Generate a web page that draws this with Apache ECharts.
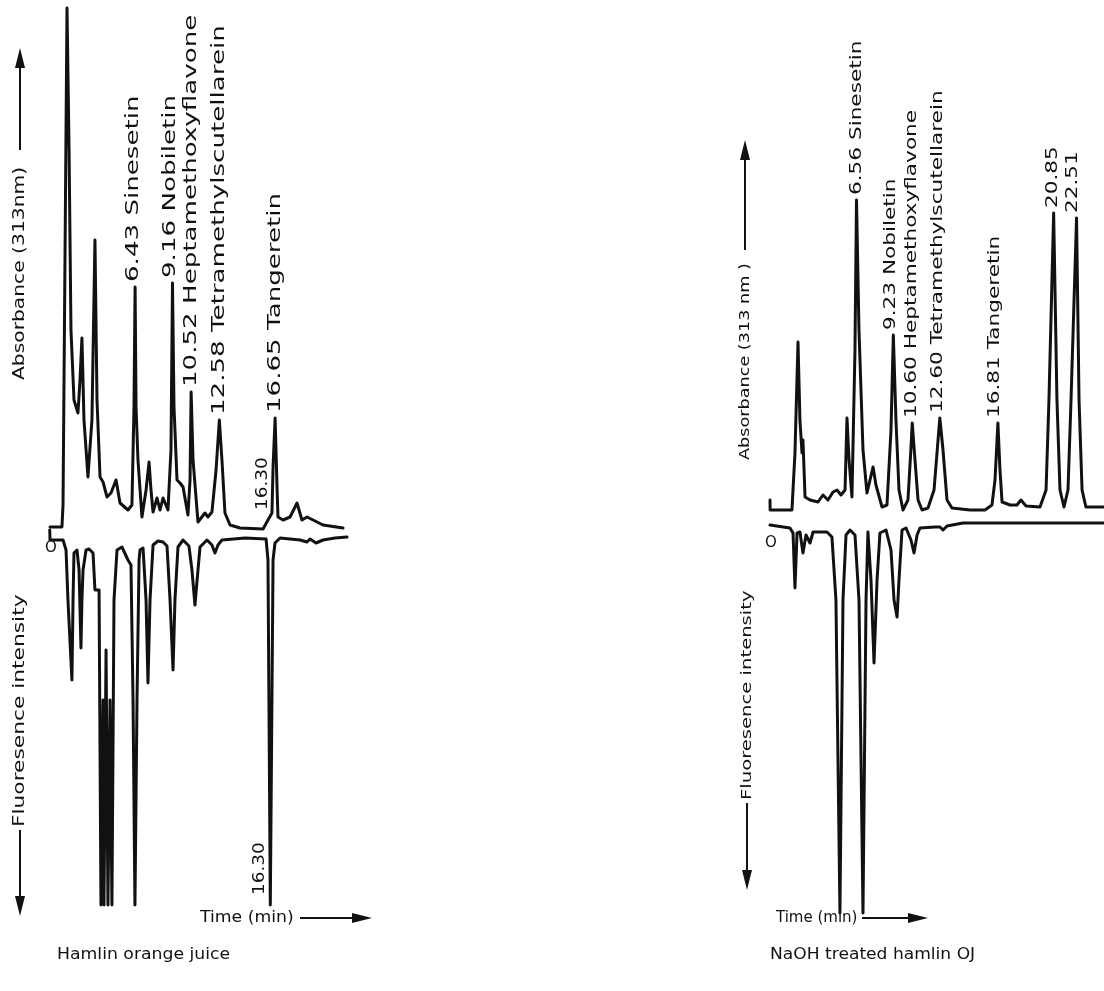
<!DOCTYPE html>
<html><head><meta charset="utf-8">
<script src="https://cdn.jsdelivr.net/npm/echarts@6/dist/echarts.min.js"></script>
<style>html,body{margin:0;padding:0;background:#fff}#c{width:1104px;height:991px}</style>
</head><body><div id="c"></div>
<script>
// ---- Left panel: Hamlin orange juice ----
const leftAbsTime  = [0.22,1.09,1.17,1.46,1.61,1.75,1.97,2.26,2.41,2.55,2.70,2.99,3.28,3.50,3.65,3.87,4.09,4.38,4.67,5.04,5.33,5.91,6.20,6.35,6.43,6.50,6.64,6.93,7.23,7.45,7.59,7.74,8.03,8.25,8.47,8.83,9.05,9.16,9.27,9.49,9.71,9.93,10.29,10.44,10.52,10.66,11.02,11.53,11.75,12.04,12.34,12.58,12.77,12.99,13.36,14.09,15.77,16.13,16.42,16.50,16.65,16.79,16.86,17.23,17.74,18.25,18.61,18.98,19.42,20.15,21.61];
const leftAbsValue = [0,0,22,519,377,197,127,114,147,189,107,50,107,287,127,50,45,30,34,47,24,17,22,120,240,120,67,10,37,65,37,15,29,17,29,17,77,244,120,47,44,40,12,47,135,67,5,14,10,15,57,107,67,14,2,-1,-2,7,14,60,109,40,10,7,10,24,7,10,7,2,-1];
const leftFluTime  = [0.20,0.22,1.17,1.39,1.53,1.82,1.90,1.97,2.19,2.34,2.48,2.55,2.63,2.85,3.07,3.36,3.50,3.80,3.94,4.09,4.16,4.31,4.45,4.60,4.74,4.89,5.11,5.47,5.91,6.13,6.28,6.42,6.57,6.72,6.79,7.01,7.23,7.37,7.52,7.74,8.10,8.47,8.76,8.98,9.20,9.34,9.56,9.93,10.36,10.58,10.80,11.02,11.17,11.68,12.04,12.26,12.48,12.77,14.45,15.99,16.13,16.30,16.50,16.64,17.01,18.47,18.98,19.20,19.64,20.15,21.02,21.90];
const leftFluValue = [-8,2,2,12,62,142,62,15,12,32,110,62,32,12,11,15,52,52,367,162,367,112,367,162,367,62,12,9,22,27,162,367,162,22,12,10,62,145,62,7,3,4,8,62,132,62,9,2,8,32,67,32,9,2,7,15,7,2,0,1,22,367,22,5,0,2,4,1,5,2,0,-1];
const leftPeakText = ["6.43 Sinesetin","9.16 Nobiletin","10.52 Heptamethoxyflavone","12.58 Tetramethylscutellarein","16.65 Tangeretin","16.30"];
const leftPeakTime = [6.43,9.16,10.52,12.58,16.65,16.30];
const leftFluPeakText = ["16.30"];
const leftFluPeakTime = [16.30];

// ---- Right panel: NaOH treated hamlin OJ ----
const rightAbsTime  = [0.29,0.30,1.88,2.10,2.32,2.46,2.61,2.68,2.83,3.19,3.77,4.13,4.49,4.86,5.15,5.44,5.73,5.87,6.02,6.23,6.45,6.56,6.74,7.03,7.32,7.54,7.76,7.97,8.41,8.77,9.06,9.23,9.42,9.64,9.93,10.29,10.50,10.60,10.80,11.02,11.31,11.74,12.18,12.47,12.60,12.83,13.12,13.48,14.79,15.87,16.38,16.60,16.81,16.96,17.11,17.69,18.19,18.48,18.85,19.86,20.30,20.51,20.85,21.09,21.31,21.60,21.89,22.11,22.51,22.69,22.91,23.19,24.50];
const rightAbsValue = [9,-1,-1,56,167,89,56,69,12,9,7,14,9,17,19,14,19,91,49,12,159,309,179,59,16,29,42,24,2,4,79,174,89,19,-1,9,59,86,49,9,-1,1,19,69,91,59,9,1,-1,-1,4,29,86,39,7,4,4,9,3,2,19,109,296,109,19,2,19,109,291,109,19,2,2];
const rightFluTime  = [0.29,1.74,1.96,2.10,2.25,2.46,2.68,2.90,3.19,3.41,4.42,4.78,5.07,5.36,5.58,5.80,6.09,6.45,6.74,7.03,7.25,7.39,7.61,7.83,8.05,8.26,8.70,9.06,9.28,9.50,9.64,9.86,10.15,10.51,10.73,10.95,11.16,12.25,12.61,12.83,13.12,14.28,24.50];
const rightFluValue = [0,3,8,63,8,7,28,10,18,7,7,12,75,388,75,10,5,10,75,388,75,7,55,138,55,8,5,25,75,92,55,5,3,15,28,10,3,2,2,5,1,-2,-2];
const rightPeakText = ["6.56 Sinesetin","9.23 Nobiletin","10.60 Heptamethoxyflavone","12.60 Tetramethylscutellarein","16.81 Tangeretin","20.85","22.51"];
const rightPeakTime = [6.56,9.23,10.60,12.60,16.81,20.85,22.51];

const ink = '#111';
const FONT = '"DejaVu Sans", "Noto Sans", sans-serif';
const zip = (a, b) => a.map((t, i) => [t, b[i]]);

const chart = echarts.init(document.getElementById('c'), null, {renderer: 'canvas'});
const hiddenX = (min, max, g) => ({type: 'value', gridIndex: g, min, max, show: false});
const hiddenY = (min, max, g, inv) => ({type: 'value', gridIndex: g, min, max, inverse: !!inv, show: false});
const line = (data, xi, yi) => ({
  type: 'line', xAxisIndex: xi, yAxisIndex: yi, data, showSymbol: false, symbol: 'none',
  smooth: false, silent: true, animation: false,
  lineStyle: {color: ink, width: 3, join: 'round', cap: 'round'}
});

chart.setOption({
  backgroundColor: '#fff',
  animation: false,
  grid: [
    {left: 47, top: 0, width: 301.4, height: 940},
    {left: 766, top: 0, width: 338, height: 940}
  ],
  xAxis: [hiddenX(0, 22, 0), hiddenX(0, 22, 0), hiddenX(0, 24.5, 1), hiddenX(0, 24.5, 1)],
  yAxis: [hiddenY(-413, 527, 0), hiddenY(-538, 402, 0, true), hiddenY(-431, 509, 1), hiddenY(-525, 415, 1, true)],
  series: [
    line(zip(leftAbsTime, leftAbsValue), 0, 0),
    line(zip(leftFluTime, leftFluValue), 1, 1),
    line(zip(rightAbsTime, rightAbsValue), 2, 2),
    line(zip(rightFluTime, rightFluValue), 3, 3)
  ]
});

function nearestValue(times, values, t) {
  let best = 0, bd = Infinity;
  times.forEach((tt, i) => { const d = Math.abs(tt - t); if (d < bd) { bd = d; best = i; } });
  return values[best];
}
function vText(text, x, y, size, sx) {
  return {type: 'text', x, y, rotation: Math.PI / 2, scaleX: sx || 1.12, silent: true,
    style: {text, font: size + 'px ' + FONT, fill: ink, align: 'left', verticalAlign: 'middle', textAlign: 'left', textVerticalAlign: 'middle'}};
}
function hText(text, x, y, size, sx) {
  return {type: 'text', x, y, scaleX: sx || 1.12, silent: true,
    style: {text, font: size + 'px ' + FONT, fill: ink, align: 'left', verticalAlign: 'middle', textAlign: 'left', textVerticalAlign: 'middle'}};
}
const els = [];
const leftDx = [-2, -2, 0, 0, 0, -7];
leftPeakText.forEach((s, i) => {
  const t = leftPeakTime[i];
  const v = nearestValue(leftAbsTime, leftAbsValue, t);
  const p = chart.convertToPixel({xAxisIndex: 0, yAxisIndex: 0}, [t, v]);
  const small = i === 5;
  els.push(vText(s, p[0] + leftDx[i], p[1] - (small ? 3 : 5), small ? 16 : 18, small ? 1.15 : 1.45));
});
leftFluPeakText.forEach((s, i) => {
  const p = chart.convertToPixel({xAxisIndex: 1, yAxisIndex: 1}, [leftFluPeakTime[i], 357]);
  els.push(vText(s, p[0] - 10, p[1], 16, 1.15));
});
const rightDx = [0, -2, 0, -2, -3, -1, -4];
rightPeakText.forEach((s, i) => {
  const t = rightPeakTime[i];
  const v = nearestValue(rightAbsTime, rightAbsValue, t);
  const p = chart.convertToPixel({xAxisIndex: 2, yAxisIndex: 2}, [t, v]);
  els.push(vText(s, p[0] + rightDx[i], p[1] - 5, 16, 1.35));
});

// axis captions and arrows (decoration)
function arrowUp(x, yTop, yBottom) {
  return [
    {type: 'line', silent: true, shape: {x1: x, y1: yBottom, x2: x, y2: yTop + 16}, style: {stroke: ink, lineWidth: 2}},
    {type: 'polygon', silent: true, shape: {points: [[x, yTop], [x - 5, yTop + 20], [x + 5, yTop + 20]]}, style: {fill: ink}}
  ];
}
function arrowDown(x, yTop, yBottom) {
  return [
    {type: 'line', silent: true, shape: {x1: x, y1: yTop, x2: x, y2: yBottom - 16}, style: {stroke: ink, lineWidth: 2}},
    {type: 'polygon', silent: true, shape: {points: [[x, yBottom], [x - 5, yBottom - 20], [x + 5, yBottom - 20]]}, style: {fill: ink}}
  ];
}
function arrowRight(y, xLeft, xRight) {
  return [
    {type: 'line', silent: true, shape: {x1: xLeft, y1: y, x2: xRight - 14, y2: y}, style: {stroke: ink, lineWidth: 2}},
    {type: 'polygon', silent: true, shape: {points: [[xRight, y], [xRight - 20, y - 5], [xRight - 20, y + 5]]}, style: {fill: ink}}
  ];
}
els.push(vText('Absorbance (313nm)', 20, 380, 15, 1.35));
els.push(...arrowUp(20, 48, 150));
els.push(vText('Fluoresence intensity', 20, 827, 15, 1.45));
els.push(...arrowDown(20, 830, 916));
els.push(vText('Absorbance (313 nm )', 745, 460, 14, 1.26));
els.push(...arrowUp(745, 140, 250));
els.push(vText('Fluoresence intensity', 747, 800, 14, 1.4));
els.push(...arrowDown(747, 803, 890));
els.push(hText('O', 45, 548, 15, 1.0));
els.push(hText('O', 765, 543, 15, 1.0));
els.push(hText('Time (min)', 200, 918, 15, 1.15));
els.push(...arrowRight(918, 300, 372));
els.push(hText('Hamlin orange juice', 57, 955, 15, 1.15));
els.push(hText('Time (min)', 776, 918, 15, 1.0));
els.push(...arrowRight(918, 862, 928));
els.push(hText('NaOH treated hamlin OJ', 770, 955, 15, 1.14));
chart.setOption({graphic: {elements: els}});
</script></body></html>
